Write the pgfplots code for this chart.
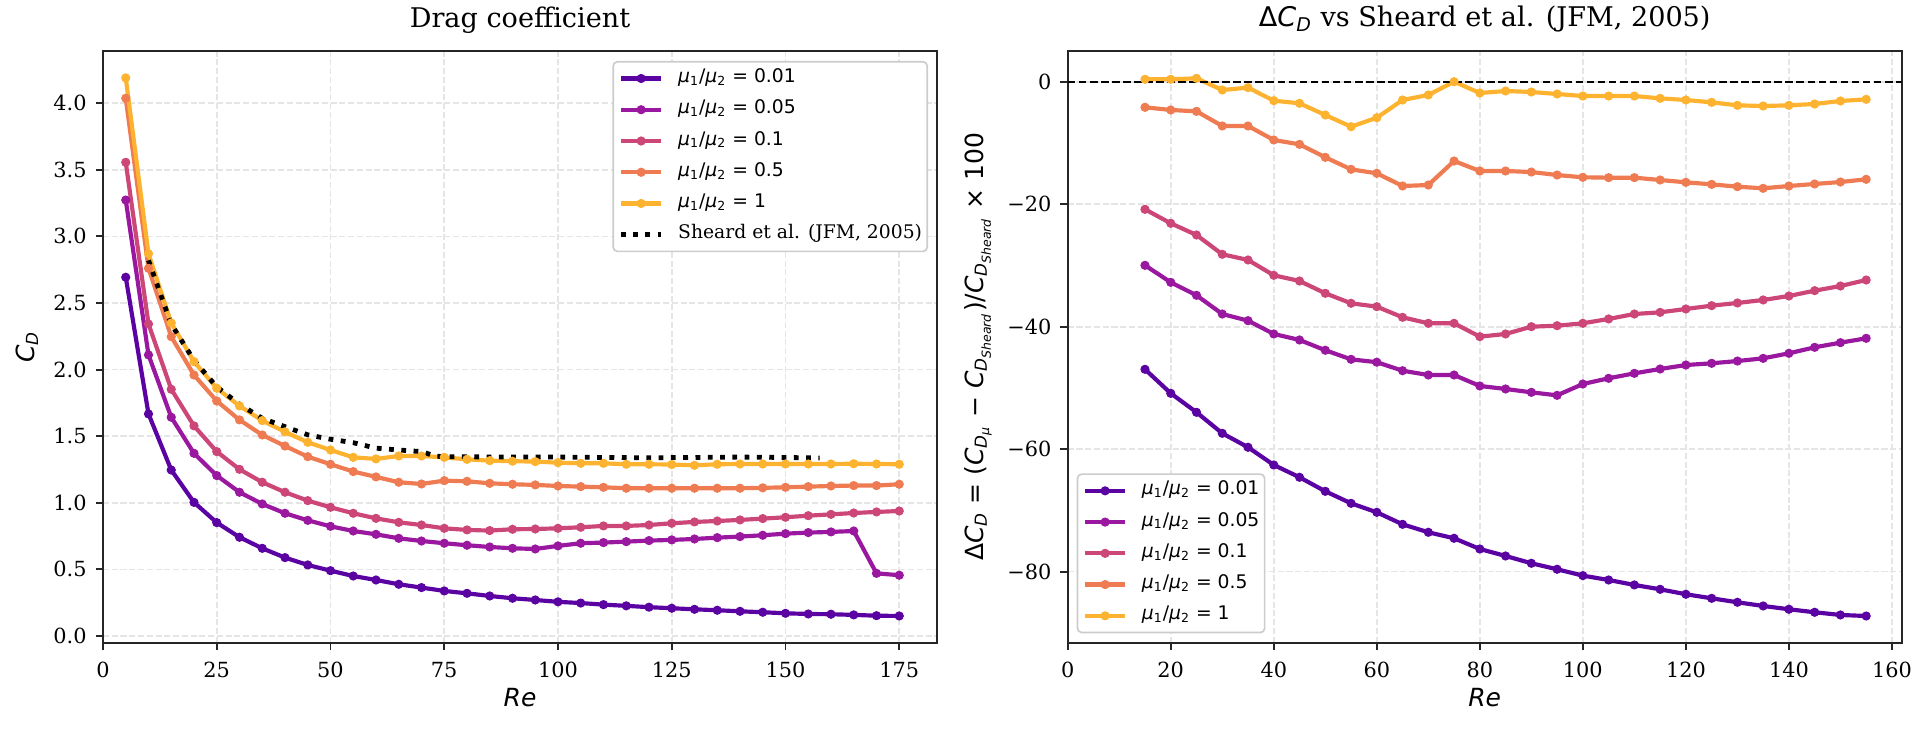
\documentclass[border=0pt]{standalone}
\usepackage{fontspec}
\setmainfont{DejaVu Serif}
\newfontfamily\dvs{DejaVu Sans}
\usepackage{pgfplots}
\usepackage{pgfplotstable}
\pgfplotsset{compat=1.18}
\definecolor{c1}{HTML}{5B02A3}
\definecolor{c2}{HTML}{9A179F}
\definecolor{c3}{HTML}{CC4778}
\definecolor{c4}{HTML}{EE7B51}
\definecolor{c5}{HTML}{FDB32F}
\definecolor{gridc}{RGB}{229,229,229}
\definecolor{legc}{RGB}{204,204,204}
\newcommand\sbs[1]{\textsubscript{#1}}
\newcommand\mur[1]{{\dvs\textit{μ}\sbs{1}/\textit{μ}\sbs{2} = #1}}

\pgfplotstableread{
Re a b c d e
5 2.693 3.273 3.556 4.037 4.190
10 1.667 2.110 2.342 2.760 2.870
15 1.246 1.642 1.852 2.247 2.350
20 1.003 1.371 1.577 1.959 2.060
25 0.851 1.204 1.384 1.764 1.860
30 0.741 1.079 1.251 1.622 1.727
35 0.658 0.991 1.154 1.509 1.617
40 0.588 0.921 1.079 1.426 1.532
45 0.533 0.868 1.016 1.346 1.454
50 0.490 0.823 0.966 1.289 1.396
55 0.450 0.788 0.921 1.234 1.341
60 0.420 0.763 0.883 1.194 1.329
65 0.388 0.733 0.853 1.154 1.351
70 0.363 0.713 0.833 1.141 1.351
75 0.338 0.696 0.808 1.166 1.341
80 0.320 0.681 0.796 1.161 1.326
85 0.300 0.668 0.791 1.146 1.316
90 0.283 0.658 0.801 1.139 1.312
95 0.270 0.653 0.803 1.134 1.309
100 0.256 0.676 0.808 1.126 1.301
105 0.247 0.696 0.816 1.121 1.296
110 0.235 0.701 0.826 1.116 1.296
115 0.226 0.708 0.826 1.109 1.289
120 0.216 0.716 0.833 1.109 1.289
125 0.208 0.721 0.846 1.109 1.287
130 0.200 0.728 0.856 1.109 1.281
135 0.193 0.738 0.863 1.109 1.289
140 0.185 0.746 0.871 1.109 1.291
145 0.178 0.756 0.881 1.112 1.291
150 0.170 0.768 0.891 1.116 1.291
155 0.165 0.776 0.903 1.121 1.291
160 0.163 0.781 0.913 1.126 1.291
165 0.158 0.788 0.923 1.129 1.293
170 0.152 0.470 0.931 1.129 1.291
175 0.150 0.456 0.938 1.139 1.289
}\cdtable

\pgfplotstableread{
Re cd
10 2.82
15 2.34
20 2.07
25 1.87
30 1.74
35 1.634
40 1.571
45 1.51
50 1.477
55 1.451
60 1.41
65 1.396
70 1.384
73 1.35
75 1.346
80 1.345
90 1.343
100 1.343
110 1.34
120 1.338
130 1.34
140 1.343
150 1.34
157.5 1.336
}\sheard

\pgfplotstableread{
Re a b c d e
15 -46.96 -29.98 -20.84 -4.18 0.39
20 -50.88 -32.76 -23.12 -4.62 0.39
25 -53.98 -34.88 -25.03 -4.84 0.55
30 -57.41 -37.93 -28.18 -7.23 -1.36
35 -59.69 -39.02 -29.11 -7.23 -0.97
40 -62.58 -41.19 -31.61 -9.52 -3.10
45 -64.59 -42.17 -32.54 -10.23 -3.53
50 -66.88 -43.85 -34.55 -12.35 -5.44
55 -68.84 -45.33 -36.18 -14.31 -7.35
60 -70.31 -45.80 -36.73 -14.96 -5.88
65 -72.27 -47.19 -38.47 -17.03 -2.99
70 -73.57 -47.89 -39.45 -16.87 -2.17
75 -74.55 -47.89 -39.45 -12.95 0.00
80 -76.30 -49.68 -41.63 -14.58 -1.85
85 -77.44 -50.17 -41.19 -14.58 -1.52
90 -78.63 -50.72 -40.00 -14.75 -1.68
95 -79.61 -51.21 -39.84 -15.24 -2.01
100 -80.65 -49.36 -39.45 -15.61 -2.34
105 -81.36 -48.43 -38.74 -15.67 -2.34
110 -82.17 -47.62 -37.93 -15.67 -2.34
115 -82.88 -46.91 -37.66 -16.05 -2.72
120 -83.69 -46.26 -37.11 -16.43 -2.99
125 -84.35 -45.98 -36.57 -16.76 -3.37
130 -85.00 -45.61 -36.13 -17.14 -3.86
135 -85.60 -45.17 -35.64 -17.41 -3.97
140 -86.14 -44.35 -34.99 -17.03 -3.86
145 -86.63 -43.37 -34.12 -16.70 -3.64
150 -87.07 -42.61 -33.36 -16.38 -3.15
155 -87.24 -41.90 -32.38 -15.94 -2.88
}\dtable

\pgfplotsset{
  mystyle/.style={
    scale only axis, width=400.32pt, height=284.16pt,
    anchor=south west,
    axis line style={line width=0.9pt, black!85},
    tick align=outside, tick pos=left,
    major tick length=3.5pt,
    every tick/.style={line width=0.9pt, black!85},
    grid=major,
    major grid style={gridc, line width=0.8pt, dash pattern=on 2.9pt off 1.3pt},
    tick label style={font=\fontsize{10}{12}\selectfont},
    xticklabel style={inner sep=0pt, anchor=north, yshift=-5.6pt},
    yticklabel style={inner sep=0pt, anchor=east, xshift=-4.2pt},
    label style={font=\fontsize{12}{14}\selectfont},
    title style={font=\fontsize{13}{15}\selectfont, at={(axis description cs:0.5,1.0193)}, anchor=base},
    xlabel style={at={(axis description cs:0.5,-0.108)}, anchor=base},
    legend cell align=left,
    legend image code/.code={\draw[mark repeat=2,mark phase=2,##1] plot coordinates {(0pt,0pt) (9.75pt,0pt) (19.5pt,0pt)};},
    legend style={draw=legc, line width=0.8pt, rounded corners=2pt, fill=white,
      inner xsep=2.5pt, inner ysep=3.5pt, row sep=6pt, column sep=6.9pt,
      font=\fontsize{9}{11}\selectfont,
      nodes={inner sep=0pt, text height=6.5pt, text depth=2.5pt}},
  },
  s/.style={color=#1, line width=2pt, line join=round, mark=*, mark size=1.95pt,
    mark options={solid, fill=#1, draw=#1, line width=0.5pt}},
}

\begin{document}
\begin{tikzpicture}[x=1pt,y=1pt]
\useasboundingbox (0,0) rectangle (925.44,350.4);
\begin{axis}[mystyle, at={(49.44pt,41.76pt)},
  xmin=0, xmax=183.3, ymin=-0.053, ymax=4.392,
  xtick={0,25,50,75,100,125,150,175},
  xticklabels={0,25,50,75,100,125,150,175},
  ytick={0,0.5,1,1.5,2,2.5,3,3.5,4},
  yticklabels={0.0,0.5,1.0,1.5,2.0,2.5,3.0,3.5,4.0},
  title={Drag coefficient},
  xlabel={\dvs\itshape Re},
  ylabel={\dvs\textit{C}\sbs{\textit{D}}},
  ylabel style={at={(axis description cs:-0.0912,0.5)}, anchor=center},
  legend style={at={(1,1)}, anchor=north east, xshift=-4.3pt, yshift=-4.8pt},
]
\addplot[s=c1] table[x=Re,y=a]{\cdtable};
\addlegendentry{\mur{0.01}}
\addplot[s=c2] table[x=Re,y=b]{\cdtable};
\addlegendentry{\mur{0.05}}
\addplot[s=c3] table[x=Re,y=c]{\cdtable};
\addlegendentry{\mur{0.1}}
\addplot[s=c4] table[x=Re,y=d]{\cdtable};
\addlegendentry{\mur{0.5}}
\addplot[s=c5] table[x=Re,y=e]{\cdtable};
\addlegendentry{\mur{1}}
\addplot[black, line width=2.3pt, line cap=butt, dash pattern=on 2.3pt off 3.6pt, no marks] table[x=Re,y=cd]{\sheard};
\addlegendentry{Sheard et al. (JFM, 2005)}
\end{axis}

\begin{axis}[mystyle, at={(512.5pt,41.9pt)},
  xmin=0, xmax=161.9, ymin=-91.6, ymax=5.06,
  xtick={0,20,40,60,80,100,120,140,160},
  xticklabels={0,20,40,60,80,100,120,140,160},
  ytick={-80,-60,-40,-20,0},
  yticklabels={−80,−60,−40,−20,0},
  title={{\dvs Δ\textit{C}\sbs{\textit{D}}} vs Sheard et al. (JFM, 2005)},
  xlabel={\dvs\itshape Re},
  ylabel={\dvs Δ\textit{C}\sbs{\textit{D}} = (\textit{C}\sbs{\textit{D}\sbs{\textit{μ}}} − \textit{C}\sbs{\textit{D}\sbs{\textit{Sheard}}})/\textit{C}\sbs{\textit{D}\sbs{\textit{Sheard}}} × 100},
  ylabel style={at={(axis description cs:-0.1076,0.5)}, anchor=center},
  legend style={at={(0,0)}, anchor=south west, xshift=4.3pt, yshift=4.5pt},
]
\addplot[s=c1] table[x=Re,y=a]{\dtable};
\addlegendentry{\mur{0.01}}
\addplot[s=c2] table[x=Re,y=b]{\dtable};
\addlegendentry{\mur{0.05}}
\addplot[s=c3] table[x=Re,y=c]{\dtable};
\addlegendentry{\mur{0.1}}
\addplot[s=c4] table[x=Re,y=d]{\dtable};
\addlegendentry{\mur{0.5}}
\addplot[s=c5] table[x=Re,y=e]{\dtable};
\addlegendentry{\mur{1}}
\addplot[black, line width=1pt, dash pattern=on 3.7pt off 1.6pt, no marks, forget plot] coordinates {(0,0) (161.9,0)};
\end{axis}
\end{tikzpicture}
\end{document}
